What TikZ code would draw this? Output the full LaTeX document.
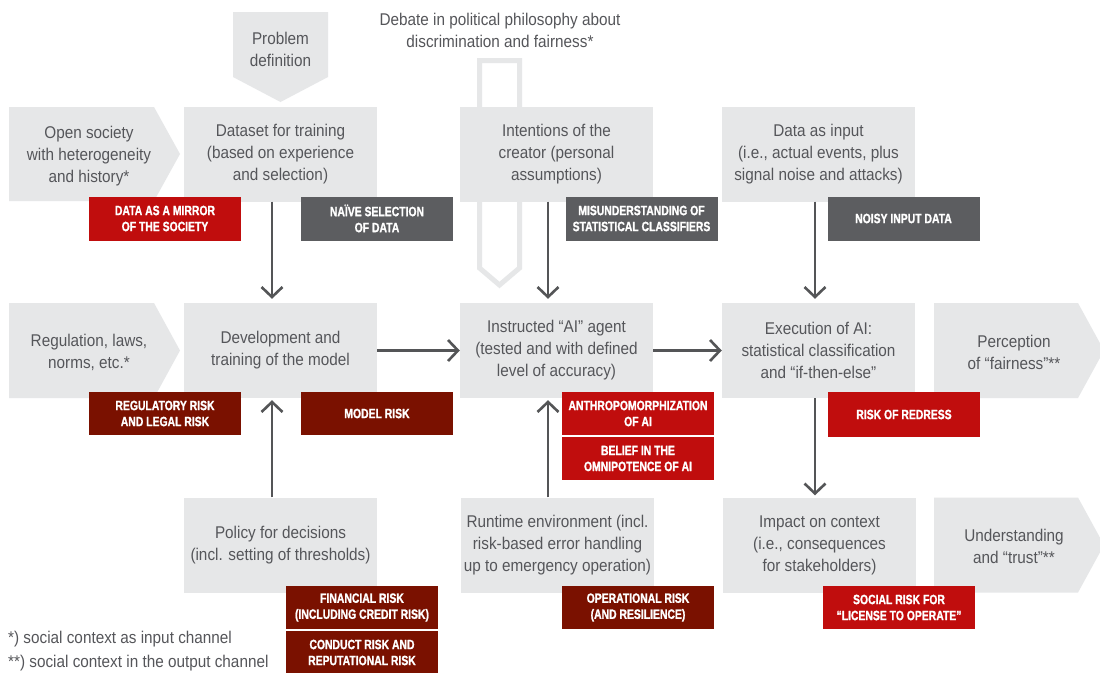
\documentclass[tikz,border=0pt]{standalone}
\usepackage{fontspec}
\setmainfont[FakeStretch=0.9]{Liberation Sans}
\newfontfamily\riskfont[FakeStretch=0.77,BoldFeatures={FakeBold=1.2}]{Liberation Sans}
\usetikzlibrary{arrows.meta}
\definecolor{boxgray}{HTML}{E6E7E8}
\definecolor{txtgray}{HTML}{55565A}
\definecolor{riskred}{HTML}{C00D0D}
\definecolor{riskdark}{HTML}{7A1100}
\definecolor{riskgray}{HTML}{5C5D60}
\definecolor{arrgray}{HTML}{545557}
\begin{document}
\begin{tikzpicture}[x=1pt,y=-1pt,
  gbox/.style={fill=boxgray, text=txtgray, minimum width=193pt, minimum height=95pt, align=center, inner sep=0pt, font=\fontsize{17}{22}\selectfont},
  gtext/.style={text=txtgray, align=center, inner sep=0pt, font=\fontsize{17}{22}\selectfont},
  risk/.style={text=white, minimum width=152pt, minimum height=44pt, align=center, inner sep=0pt, font=\riskfont\bfseries\fontsize{13.5}{16}\selectfont},
  redrisk/.style={risk, fill=riskred},
  darkrisk/.style={risk, fill=riskdark},
  grayrisk/.style={risk, fill=riskgray},
  chev/.style={fill=boxgray},
  arr/.style={draw=arrgray, line width=2.6pt, -{Straight Barb[length=10pt,width=21pt]}},
]
\useasboundingbox[fill=white] (0,0) rectangle (1100,672);

% hollow arrow behind intentions box
\draw[draw=boxgray, line width=5pt, line join=miter] (479.5,60.5) -- (519.5,60.5) -- (519.5,268) -- (499.5,285) -- (479.5,268) -- cycle;

% debate and problem definition
\node[gtext] (debate) at (500,30.5) {Debate in political philosophy about\\discrimination and fairness*};
\fill[chev] (233,12) -- (328,12) -- (328,77) -- (280.5,102) -- (233,77) -- cycle;
\node[gtext] (problem) at (280.5,49.5) {Problem\\definition};

% chevrons
\fill[chev] (9,107) -- (154,107) -- (180,154) -- (154,201) -- (9,201) -- cycle;
\node[gtext] (society) at (89,156) {Open society\\with heterogeneity\\and history*};
\fill[chev] (9,303) -- (154,303) -- (180,350.5) -- (154,398) -- (9,398) -- cycle;
\node[gtext] (regulation) at (89,352) {Regulation, laws,\\norms, etc.*};
\fill[chev] (934,303) -- (1078,303) -- (1104,350.5) -- (1078,398) -- (934,398) -- cycle;
\node[gtext] (perception) at (1014,352) {Perception\\of “fairness”**};
\fill[chev] (934,497.5) -- (1078,497.5) -- (1104,545) -- (1078,592.5) -- (934,592.5) -- cycle;
\node[gtext] (understanding) at (1014,546) {Understanding\\and “trust”**};

% main boxes
\node[gbox] (dataset) at (280.5,154) {Dataset for training\\(based on experience\\and selection)};
\node[gbox] (intentions) at (556.5,154) {Intentions of the\\creator (personal\\assumptions)};
\node[gbox] (datain) at (818.5,154) {Data as input\\(i.e., actual events, plus\\signal noise and attacks)};
\node[gbox] (devel) at (280.5,350.5) {Development and\\training of the model};
\node[gbox] (instr) at (556.5,350.5) {Instructed “AI” agent\\(tested and with defined\\level of accuracy)};
\node[gbox] (exec) at (818.5,350.5) {Execution of AI:\\statistical classification\\and “if-then-else”};
\node[gbox] (policy) at (280.5,545) {Policy for decisions\\(incl. setting of thresholds)};
\node[gbox] (runtime) at (557.5,545) {Runtime environment (incl.\\risk-based error handling\\up to emergency operation)};
\node[gbox] (impact) at (819.5,545) {Impact on context\\(i.e., consequences\\for stakeholders)};

% connectors
\draw[arr] ([xshift=-8.5pt]dataset.south) -- ([xshift=-8.5pt,yshift=4pt]devel.north);
\draw[arr] ([xshift=-8.5pt]intentions.south) -- ([xshift=-8.5pt,yshift=4pt]instr.north);
\draw[arr] ([xshift=-3.5pt]datain.south) -- ([xshift=-3.5pt,yshift=4pt]exec.north);
\draw[arr] (devel.east) -- (instr.west);
\draw[arr] (instr.east) -- (exec.west);
\draw[arr] ([xshift=-8.5pt]policy.north) -- ([xshift=-8.5pt,yshift=-2pt]devel.south);
\draw[arr] ([xshift=-9.5pt]runtime.north) -- ([xshift=-8.5pt,yshift=-2pt]instr.south);
\draw[arr] ([xshift=-3.5pt]exec.south) -- ([xshift=-4.5pt,yshift=2pt]impact.north);

% risk labels
\node[redrisk] (mirror) at (165,218.5) {DATA AS A MIRROR\\OF THE SOCIETY};
\node[grayrisk] (naive) at (377,218.5) {NAÏVE SELECTION\\OF DATA};
\node[grayrisk] (misund) at (641.5,218.5) {MISUNDERSTANDING OF\\STATISTICAL CLASSIFIERS};
\node[grayrisk] (noisy) at (903.5,218.5) {NOISY INPUT DATA};
\node[darkrisk, minimum height=43pt] (regul) at (165,413.5) {REGULATORY RISK\\AND LEGAL RISK};
\node[darkrisk, minimum height=43pt] (model) at (377,413.5) {MODEL RISK};
\node[redrisk, minimum height=43pt] (anthro) at (638,413.5) {ANTHROPOMORPHIZATION\\OF AI};
\node[redrisk, minimum height=43pt] (belief) at (638,458.5) {BELIEF IN THE\\OMNIPOTENCE OF AI};
\node[redrisk, minimum height=45pt] (redress) at (904,414.5) {RISK OF REDRESS};
\node[darkrisk, minimum height=43pt] (financial) at (362,607.5) {FINANCIAL RISK\\(INCLUDING CREDIT RISK)};
\node[darkrisk, minimum height=43pt] (conduct) at (362,652.5) {CONDUCT RISK AND\\REPUTATIONAL RISK};
\node[darkrisk, minimum height=43pt] (operational) at (638,607.5) {OPERATIONAL RISK\\(AND RESILIENCE)};
\node[redrisk, minimum height=43pt] (social) at (899,607.5) {SOCIAL RISK FOR\\“LICENSE TO OPERATE”};

% footnotes
\node[gtext, anchor=west] (fn1) at (8,639) {*) social context as input channel};
\node[gtext, anchor=west] (fn2) at (8,663) {**) social context in the output channel};
\end{tikzpicture}
\end{document}
